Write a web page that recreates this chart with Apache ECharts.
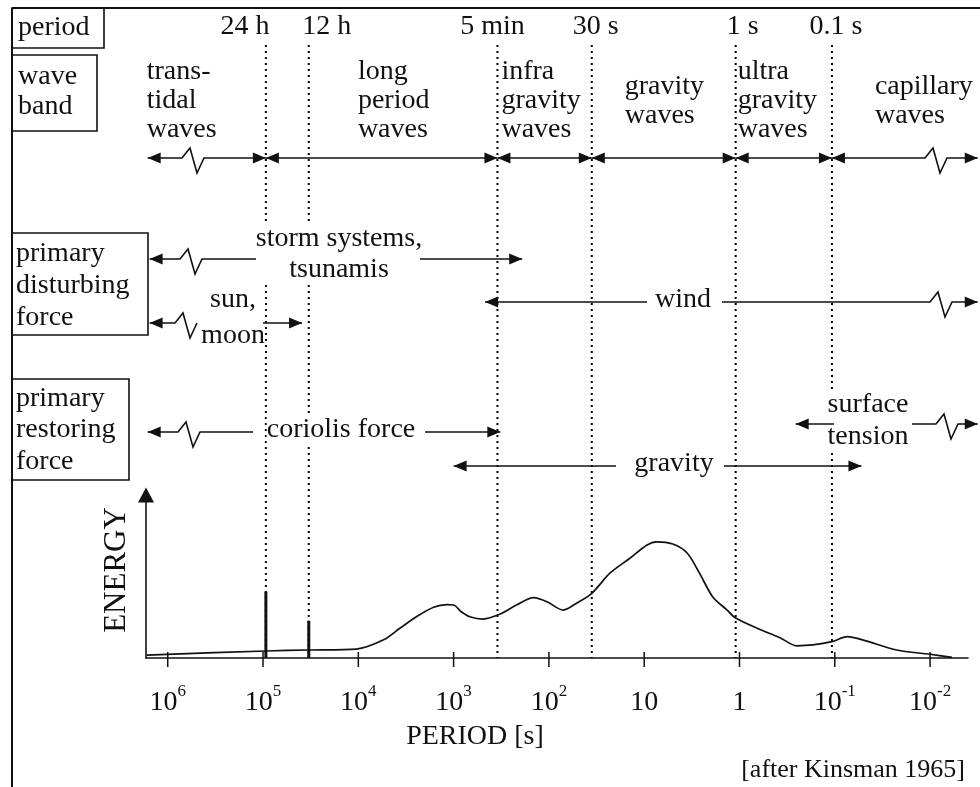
<!DOCTYPE html>
<html>
<head>
<meta charset="utf-8">
<title>Wave periods and energy</title>
<script src="https://cdn.jsdelivr.net/npm/echarts@6.0.0/dist/echarts.min.js"></script>
<style>
html, body { margin: 0; padding: 0; background: #fff; }
#main { width: 980px; height: 787px; }
</style>
</head>
<body>
<div id="main"></div>
<script>
// x is log10 of the period in seconds, long periods on the left
var tickExp = [6, 5, 4, 3, 2, 1, 0, -1, -2];

// band limits (dotted lines)
var periodNames = ['24 h', '12 h', '5 min', '30 s', '1 s', '0.1 s'];
var periodLog = [4.97, 4.52, 2.54, 1.55, 0.04, -0.97];

// wave bands
var bandNames = ['trans-\ntidal\nwaves', 'long\nperiod\nwaves', 'infra\ngravity\nwaves',
    'gravity\nwaves', 'ultra\ngravity\nwaves', 'capillary\nwaves'];
var bandFrom = [6.21, 4.97, 2.54, 1.55, 0.04, -0.97];
var bandTo = [4.97, 2.54, 1.55, 0.04, -0.97, -2.5];

// disturbing and restoring forces
var forceNames = ['storm systems,\ntsunamis', 'sun,\nmoon', 'wind', 'coriolis force', 'gravity', 'surface\ntension'];
var forceFrom = [6.19, 6.19, 2.67, 6.21, 3.0, -0.59];
var forceTo = [2.28, 4.59, -2.5, 2.51, -1.28, -2.5];

// energy spectrum, arbitrary units
var energyLog = [6.22, 4.97, 4.52, 4.02, 3.74, 3.56, 3.39, 3.21, 3.07, 3.0, 2.92, 2.83, 2.69, 2.51,
    2.34, 2.16, 2.02, 1.85, 1.71, 1.55, 1.36, 1.15, 0.97, 0.87, 0.70, 0.55, 0.42, 0.28, 0.13,
    0.04, -0.18, -0.43, -0.60, -0.77, -0.97, -1.13, -1.30, -1.65, -2.0, -2.23];
var energyVal = [1.8, 4.3, 4.9, 5.5, 11.0, 18.4, 25.3, 31.1, 32.7, 32.5, 28.4, 25.3, 23.9, 27.0,
    32.5, 37.0, 34.5, 29.4, 33.6, 39.7, 52.0, 61.2, 69.3, 71.3, 69.9, 64.4, 52.1, 37.4, 29.4,
    24.5, 18.4, 12.3, 7.5, 8.0, 10.0, 13.1, 11.0, 4.9, 2.3, 0.4];
// tidal lines
var spikeLog = [4.97, 4.52];
var spikeVal = [40.7, 22.9];

// layout (page pixels)
var FONT = '"Liberation Serif", "Times New Roman", serif';
var INK = '#111';
var ROW_PERIOD = 27, ROW_BAND_TEXT = 101, ROW_BAND = 158, DOTS_TOP = 45, BASE_Y = 658;
var periodTextDx = [-21, 18, -5, 4, 7, 4];
var bandTextDx = [-1, 92, 4, 33, 2, 43];
var bandBreak = [182, null, null, null, null, 925];
var forceLayout = [
    {y: 259, tx: 339, ty: 254, lh: 31, gap: [256, 420], brk: 180},
    {y: 323, tx: 233, ty: 318, lh: 36, gap: [197, 263], brk: 175},
    {y: 302, tx: 683, ty: 300, lh: 30, gap: [647, 722], brk: 930},
    {y: 432, tx: 341, ty: 430, lh: 30, gap: [253, 425], brk: 178},
    {y: 466, tx: 674, ty: 464, lh: 30, gap: [616, 724], brk: null},
    {y: 424, tx: 868, ty: 421, lh: 32, gap: [834, 912], brk: 936}
];

function zip(a, b) {
    var ret = [];
    for (var i = 0; i < a.length; i++) ret.push([a[i], b[i]]);
    return ret;
}

function textEl(str, x, y, opt) {
    opt = opt || {};
    return {
        type: 'text',
        style: {
            text: str, x: x, y: y,
            font: (opt.size || 28) + 'px ' + FONT,
            fill: INK,
            align: opt.align || 'center', textAlign: opt.align || 'center',
            verticalAlign: 'middle', textVerticalAlign: 'middle',
            lineHeight: opt.lh || 30,
            backgroundColor: opt.bg ? '#fff' : null
        }
    };
}

function arrowHead(x, y, dir) {
    // dir 1 points right, -1 points left
    return {
        type: 'polygon',
        shape: {points: [[x, y], [x - dir * 13, y - 5.5], [x - dir * 13, y + 5.5]]},
        style: {fill: INK}
    };
}

// straight line with the zigzag "break" mark if brk falls inside
function brokenLine(a, b, y, brk) {
    var pts;
    if (brk != null && brk > a && brk < b) {
        pts = [[a, y], [brk, y], [brk + 8, y - 10], [brk + 15, y + 15], [brk + 22, y], [Math.max(b, brk + 22), y]];
    } else {
        pts = [[a, y], [b, y]];
    }
    return {type: 'polyline', shape: {points: pts}, style: {stroke: INK, lineWidth: 1.6, fill: null}};
}

var chart = echarts.init(document.getElementById('main'), null, {renderer: 'canvas'});

var supRich = {
    b: {fontFamily: FONT, fontSize: 28, color: INK, lineHeight: 40},
    s: {fontFamily: FONT, fontSize: 17, color: INK, lineHeight: 14, verticalAlign: 'top'}
};

var option = {
    backgroundColor: '#fff',
    animation: false,
    grid: [
        {left: 146, right: 12, top: 495, bottom: 129, containLabel: false, outerBoundsMode: 'none'},
        {left: 146, right: 12, top: 0, bottom: 0, containLabel: false, outerBoundsMode: 'none'}
    ],
    xAxis: [{
        type: 'value', gridIndex: 0, min: -2.398, max: 6.228, inverse: true,
        axisLine: {show: true, onZero: false, lineStyle: {color: INK, width: 1.6}},
        axisTick: {show: false},
        splitLine: {show: false},
        axisLabel: {
            show: true, customValues: tickExp, margin: 25, color: INK, fontFamily: FONT,
            formatter: function (v) {
                var e = Math.round(v);
                if (e === 0) return '{b|1}';
                if (e === 1) return '{b|10}';
                return '{b|10}{s|' + e + '}';
            },
            rich: supRich
        }
    }, {
        type: 'value', gridIndex: 1, min: -2.398, max: 6.228, inverse: true, show: false
    }],
    yAxis: [{
        type: 'value', gridIndex: 0, min: 0, max: 100,
        axisLine: {show: true, onZero: false, symbol: ['none', 'triangle'], symbolSize: [16, 15],
            lineStyle: {color: INK, width: 1.6}},
        axisTick: {show: false}, axisLabel: {show: false}, splitLine: {show: false}
    }, {
        type: 'value', gridIndex: 1, min: 0, max: 787, inverse: true, show: false
    }],
    graphic: [
        // frame
        {type: 'line', shape: {x1: 12, y1: 8, x2: 980, y2: 8}, style: {stroke: INK, lineWidth: 2}},
        {type: 'line', shape: {x1: 12, y1: 8, x2: 12, y2: 787}, style: {stroke: INK, lineWidth: 2}},
        // row headings
        {type: 'rect', shape: {x: 12, y: 8, width: 92, height: 40}, style: {stroke: INK, lineWidth: 1.6, fill: null}},
        {type: 'rect', shape: {x: 12, y: 55, width: 85, height: 76}, style: {stroke: INK, lineWidth: 1.6, fill: null}},
        {type: 'rect', shape: {x: 12, y: 233, width: 136, height: 102}, style: {stroke: INK, lineWidth: 1.6, fill: null}},
        {type: 'rect', shape: {x: 12, y: 379, width: 117, height: 101}, style: {stroke: INK, lineWidth: 1.6, fill: null}},
        textEl('period', 18, 28, {align: 'left'}),
        textEl('wave\nband', 18, 92, {align: 'left'}),
        textEl('primary\ndisturbing\nforce', 16, 286, {align: 'left', lh: 32}),
        textEl('primary\nrestoring\nforce', 16, 430, {align: 'left', lh: 31.5}),
        // axis names and source
        {type: 'text', x: 117, y: 570, rotation: Math.PI / 2, style: {
            text: 'ENERGY', font: '31px ' + FONT, fill: INK,
            align: 'center', textAlign: 'center', verticalAlign: 'middle', textVerticalAlign: 'middle'}},
        textEl('PERIOD [s]', 475, 737, {size: 28}),
        textEl('[after Kinsman 1965]', 965, 770, {size: 26, align: 'right'})
    ],
    series: [{
        // dotted band limits with their period labels
        name: 'limits', type: 'custom', coordinateSystem: 'cartesian2d', xAxisIndex: 1, yAxisIndex: 1, z: 1,
        data: zip(periodLog, periodNames.map(function (n, i) { return i; })),
        renderItem: function (params, api) {
            var i = params.dataIndex;
            var top = api.coord([api.value(0), DOTS_TOP]);
            var bot = api.coord([api.value(0), BASE_Y]);
            return {type: 'group', children: [
                {type: 'line', shape: {x1: top[0], y1: top[1], x2: bot[0], y2: bot[1]},
                    style: {stroke: '#000', lineWidth: 2, lineDash: [2, 4]}},
                textEl(periodNames[i], top[0] + periodTextDx[i], ROW_PERIOD)
            ]};
        }
    }, {
        name: 'bands', type: 'custom', coordinateSystem: 'cartesian2d', xAxisIndex: 1, yAxisIndex: 1, z: 3,
        data: zip(bandFrom, bandTo),
        renderItem: function (params, api) {
            var i = params.dataIndex;
            var p1 = api.coord([api.value(0), ROW_BAND]);
            var p2 = api.coord([api.value(1), ROW_BAND]);
            return {type: 'group', children: [
                textEl(bandNames[i], p1[0] + bandTextDx[i], ROW_BAND_TEXT, {align: 'left', lh: 29}),
                brokenLine(p1[0], p2[0], p1[1], bandBreak[i]),
                arrowHead(p1[0], p1[1], -1),
                arrowHead(p2[0], p2[1], 1)
            ]};
        }
    }, {
        name: 'forces', type: 'custom', coordinateSystem: 'cartesian2d', xAxisIndex: 1, yAxisIndex: 1, z: 3,
        data: zip(forceFrom, forceTo),
        renderItem: function (params, api) {
            var i = params.dataIndex;
            var L = forceLayout[i];
            var p1 = api.coord([api.value(0), L.y]);
            var p2 = api.coord([api.value(1), L.y]);
            return {type: 'group', children: [
                textEl(forceNames[i], L.tx, L.ty, {lh: L.lh, bg: true}),
                brokenLine(p1[0], L.gap[0], p1[1], L.brk),
                brokenLine(L.gap[1], p2[0], p1[1], L.brk),
                arrowHead(p1[0], p1[1], -1),
                arrowHead(p2[0], p2[1], 1)
            ]};
        }
    }, {
        name: 'ticks', type: 'custom', coordinateSystem: 'cartesian2d', xAxisIndex: 0, yAxisIndex: 0, z: 4,
        data: tickExp.map(function (e) { return [e, 0]; }),
        renderItem: function (params, api) {
            var p = api.coord([api.value(0), 0]);
            return {type: 'line', shape: {x1: p[0], y1: p[1] - 6, x2: p[0], y2: p[1] + 9},
                style: {stroke: INK, lineWidth: 1.5}};
        }
    }, {
        name: 'tides', type: 'custom', coordinateSystem: 'cartesian2d', xAxisIndex: 0, yAxisIndex: 0, z: 4,
        data: zip(spikeLog, spikeVal),
        renderItem: function (params, api) {
            var b = api.coord([api.value(0), 0]);
            var t = api.coord([api.value(0), api.value(1)]);
            return {type: 'line', shape: {x1: b[0], y1: b[1], x2: t[0], y2: t[1]},
                style: {stroke: INK, lineWidth: 3}};
        }
    }, {
        name: 'energy', type: 'line', xAxisIndex: 0, yAxisIndex: 0, z: 4,
        data: zip(energyLog, energyVal),
        smooth: 0.3, symbol: 'none',
        lineStyle: {color: INK, width: 1.7}
    }]
};

chart.setOption(option);
</script>
</body>
</html>
